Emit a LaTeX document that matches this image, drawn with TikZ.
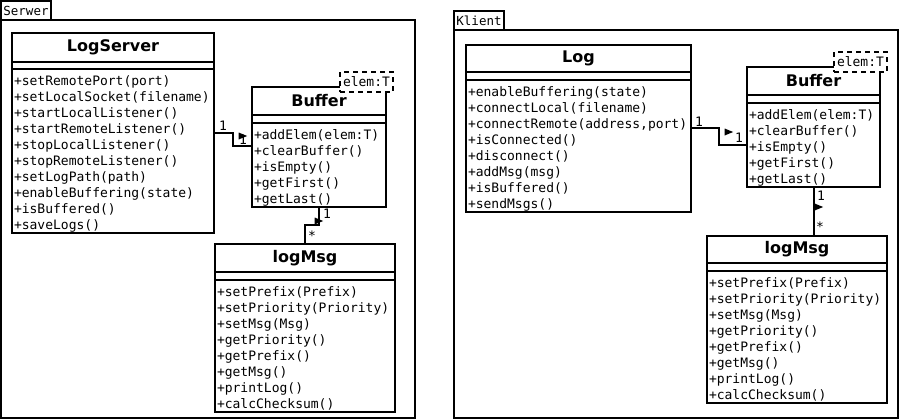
\documentclass[tikz,border=0pt]{standalone}
\usepackage{fontspec}
\setsansfont{DejaVu Sans}
\setmonofont{DejaVu Sans Mono}
\usetikzlibrary{shapes.geometric}
\newcommand\membfont{\ttfamily\fontsize{13}{16}\selectfont}
\newcommand\headfont{\sffamily\bfseries\fontsize{16}{18}\selectfont}
\newcommand\tabfont{\ttfamily\fontsize{12.5}{15}\selectfont}
\tikzset{
  uml/.style={draw, line width=2pt, fill=white, anchor=north west, inner sep=0pt, outer sep=0pt},
  classhead/.style={uml, font=\headfont, minimum height=28pt},
  classattr/.style={uml, minimum height=8pt},
  classbody/.style={uml, inner xsep=2pt, font=\membfont, align=left, execute at begin node=\rule{0pt}{15pt}},
  assoc/.style={line width=2pt},
  navtip/.style={isosceles triangle, fill=black, inner sep=0pt, minimum width=7pt, minimum height=7pt},
  mult/.style={font=\membfont, inner sep=0pt},
  tparam/.style={draw, line width=2pt, dash pattern=on 5pt off 4pt, fill=white, font=\membfont,
    anchor=north west, inner xsep=3pt, inner ysep=0pt, outer sep=0pt, minimum height=20pt},
  pkgtab/.style={draw, line width=2pt, font=\tabfont, anchor=south west, inner xsep=2pt, inner ysep=0pt,
    outer sep=0pt, minimum width=50pt, minimum height=19pt}
}
\begin{document}
\begin{tikzpicture}[x=1pt, y=-1pt]
  \useasboundingbox (0,0) rectangle (900,420);
  \fill[white] (0,0) rectangle (900,420);
  % packages
  \draw[line width=2.5pt] (1,20) rectangle (415,418);
  \node[pkgtab] (srvTab) at (1,20) {Serwer};
  \draw[line width=2.5pt] (454,30) rectangle (898,418);
  \node[pkgtab] (cliTab) at (454,30) {Klient};

  % Serwer side
  \node[classhead, minimum width=202pt, minimum height=29pt] (lsT) at (12,33) {LogServer};
  \node[classattr, minimum width=202pt, minimum height=7pt] (lsA) at (lsT.south west) {};
  \node[classbody, text width=198pt, minimum height=164pt] (lsB) at (lsA.south west) {%
    +setRemotePort(port)\\+setLocalSocket(filename)\\+startLocalListener()\\+startRemoteListener()\\%
    +stopLocalListener()\\+stopRemoteListener()\\+setLogPath(path)\\+enableBuffering(state)\\%
    +isBuffered()\\+saveLogs()};

  \node[classhead, minimum width=134pt] (bfT) at (252,87) {Buffer};
  \node[classattr, minimum width=134pt] (bfA) at (bfT.south west) {};
  \node[classbody, text width=130pt, minimum height=84pt] (bfB) at (bfA.south west) {%
    +addElem(elem:T)\\+clearBuffer()\\+isEmpty()\\+getFirst()\\+getLast()};
  \node[tparam] (bfP) at (340,72) {elem:T};

  \node[classhead, minimum width=180pt] (lmT) at (215,244) {logMsg};
  \node[classattr, minimum width=180pt] (lmA) at (lmT.south west) {};
  \node[classbody, text width=176pt, minimum height=132pt] (lmB) at (lmA.south west) {%
    +setPrefix(Prefix)\\+setPriority(Priority)\\+setMsg(Msg)\\+getPriority()\\%
    +getPrefix()\\+getMsg()\\+printLog()\\+calcChecksum()};

  \draw[assoc] ([yshift=-64pt]lsB.north east) -- ++(19,0) |- ([yshift=-23pt]bfB.north west);
  \node[navtip] (lsNav) at (241,136) {};
  \node[mult] (lsM1) at (223,126) {1};
  \node[mult] (lsM2) at (243,140) {1};

  \draw[assoc] (bfB.south) -- ++(0,18) -| (lmT.north);
  \node[navtip] (bfNav) at (317,221) {};
  \node[mult] (bfM1) at (327,214) {1};
  \node[mult] (bfM2) at (312,236) {*};

  % Klient side
  \node[classhead, minimum width=225pt, minimum height=27pt] (lgT) at (466,45) {Log};
  \node[classattr, minimum width=225pt] (lgA) at (lgT.south west) {};
  \node[classbody, text width=221pt, minimum height=132pt] (lgB) at (lgA.south west) {%
    +enableBuffering(state)\\+connectLocal(filename)\\+connectRemote(address,port)\\+isConnected()\\%
    +disconnect()\\+addMsg(msg)\\+isBuffered()\\+sendMsgs()};

  \node[classhead, minimum width=133pt] (brT) at (747,67) {Buffer};
  \node[classattr, minimum width=133pt] (brA) at (brT.south west) {};
  \node[classbody, text width=129pt, minimum height=84pt] (brB) at (brA.south west) {%
    +addElem(elem:T)\\+clearBuffer()\\+isEmpty()\\+getFirst()\\+getLast()};
  \node[tparam] (brP) at (834,52) {elem:T};

  \node[classhead, minimum width=180pt, minimum height=27pt] (lrT) at (707,236) {logMsg};
  \node[classattr, minimum width=180pt] (lrA) at (lrT.south west) {};
  \node[classbody, text width=176pt, minimum height=132pt] (lrB) at (lrA.south west) {%
    +setPrefix(Prefix)\\+setPriority(Priority)\\+setMsg(Msg)\\+getPriority()\\%
    +getPrefix()\\+getMsg()\\+printLog()\\+calcChecksum()};

  \draw[assoc] ([yshift=-48pt]lgB.north east) -- ++(28,0) |- ([yshift=-42pt]brB.north west);
  \node[navtip] (lgNav) at (727,132) {};
  \node[mult] (lgM1) at (699,122) {1};
  \node[mult] (lgM2) at (739,138) {1};

  \draw[assoc] (brB.south) -- (brB.south |- lrT.north);
  \node[navtip] (brNav) at (817,207) {};
  \node[mult] (brM1) at (821,196) {1};
  \node[mult] (brM2) at (820,227) {*};
\end{tikzpicture}
\end{document}
